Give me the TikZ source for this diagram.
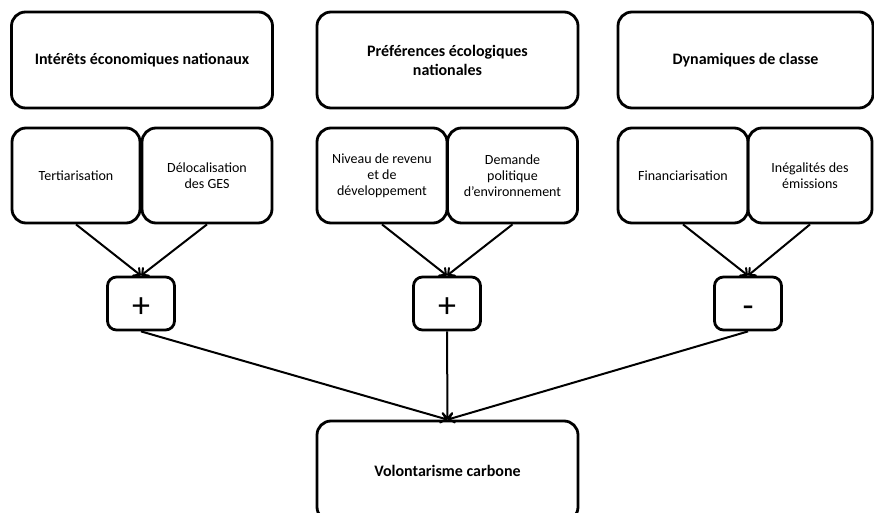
\documentclass[tikz,border=0pt]{standalone}
\usepackage{fontspec}
\setmainfont{Carlito}
\usepackage{tikz}
\usetikzlibrary{arrows,shapes,positioning}

\tikzset{
  bigbox/.style={draw,line width=2.8pt,rounded corners=14pt,minimum width=261pt,minimum height=96pt,
    inner sep=0pt,align=center,font=\fontsize{16}{19}\selectfont\bfseries},
  smallbox/.style={draw,line width=2.8pt,rounded corners=14pt,minimum width=130pt,minimum height=95pt,
    inner sep=0pt,align=center,font=\fontsize{14}{16}\selectfont},
  signbox/.style={draw,line width=2.8pt,rounded corners=9pt,minimum width=67pt,minimum height=53pt,
    inner sep=0pt,text height=27pt,text depth=0pt,font=\fontsize{36}{36}\selectfont},
  link/.style={->,>=angle 90,line width=2pt}
}

\begin{document}
\begin{tikzpicture}[x=1pt,y=-1pt]
\useasboundingbox (0,0) rectangle (874,513);
% les trois familles de facteurs
\node [bigbox] (eco) at (142,60) {Intérêts économiques nationaux};
\node [bigbox] (pref) at (447.5,60) {Préférences écologiques\\nationales};
\node [bigbox,minimum width=255pt] (dyn) at (745.5,60) {Dynamiques de classe};
% les sous-facteurs
\node [smallbox,minimum width=128pt] (tert) at (76,175.5) {Tertiarisation};
\node [smallbox] (deloc) at (207,175.5) {Délocalisation\\des GES};
\node [smallbox] (niveau) at (382,175.5) {Niveau de revenu\\et de\\développement};
\node [smallbox] (demande) at (512.5,175.5) {Demande\\politique\\d’environnement};
\node [smallbox] (fin) at (683,175.5) {Financiarisation};
\node [smallbox,minimum width=124pt] (ineg) at (810,175.5) {Inégalités des\\émissions};
% les signes
\node [signbox] (plusa) at (141,303.5) {+};
\node [signbox] (plusb) at (447,303.5) {+};
\node [signbox] (moins) at (748,303.5) {-};
% la résultante
\node [bigbox,minimum height=100pt] (vol) at (447.5,471) {Volontarisme carbone};

\draw [link] (tert.south) -- (plusa.north);
\draw [link] (deloc.south) -- (plusa.north);
\draw [link] (niveau.south) -- (plusb.north);
\draw [link] (demande.south) -- (plusb.north);
\draw [link] (fin.south) -- (moins.north);
\draw [link] (ineg.south) -- (moins.north);
\draw [link] (plusa.south) -- (vol.north);
\draw [link] (plusb.south) -- (vol.north);
\draw [link] (moins.south) -- (vol.north);
\end{tikzpicture}
\end{document}
